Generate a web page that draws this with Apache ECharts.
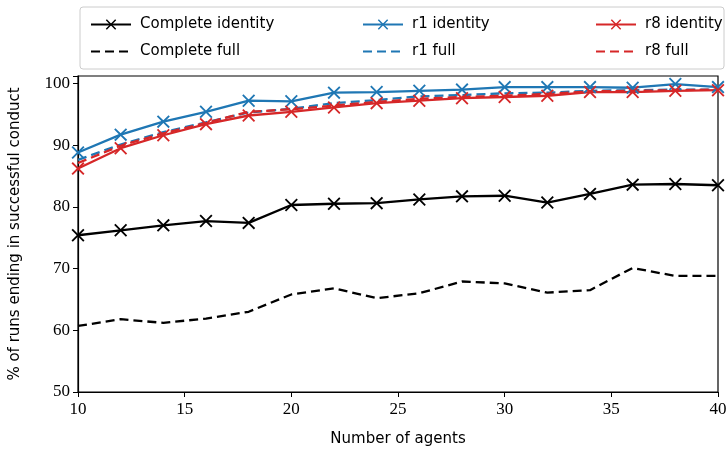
<!DOCTYPE html>
<html><head><meta charset="utf-8">
<script src="https://cdn.jsdelivr.net/npm/echarts@6/dist/echarts.min.js"></script>
<style>html,body{margin:0;padding:0;background:#fff}#c{width:727px;height:449px}</style>
</head><body><div id="c"></div>
<script>
const agents = [10,12,14,16,18,20,22,24,26,28,30,32,34,36,38,40];
const completeIdentity = [75.4,76.2,77.0,77.7,77.4,80.3,80.5,80.6,81.2,81.7,81.8,80.7,82.1,83.6,83.7,83.5];
const completeFull = [60.7,61.8,61.2,61.9,63.0,65.8,66.8,65.2,66.0,67.9,67.6,66.1,66.5,70.1,68.8,68.8];
const r1Identity = [88.8,91.7,93.8,95.4,97.2,97.1,98.5,98.6,98.8,99.0,99.4,99.4,99.4,99.3,99.9,99.4];
const r1Full = [87.6,90.1,92.1,93.7,95.3,95.9,96.8,97.3,97.9,98.1,98.4,98.5,98.8,98.9,99.0,99.0];
const r8Identity = [86.2,89.5,91.6,93.4,94.8,95.4,96.1,96.8,97.2,97.6,97.8,98.0,98.6,98.6,98.8,98.9];
const r8Full = [87.1,89.9,91.9,93.6,95.4,95.8,96.4,97.0,97.5,97.8,98.0,98.3,98.7,98.8,98.9,99.0];
const yTicks = [50,60,70,80,90,100];
const xTicks = [10,15,20,25,30,35,40];

const X = 'path://M0,1L1,0L5,4L9,0L10,1L6,5L10,9L9,10L5,6L1,10L0,9L4,5Z';
const BLACK = '#000000', BLUE = '#1f77b4', RED = '#d62728';
const sans = 'DejaVu Sans';
const serif = 'Liberation Serif';

function pts(arr){ return agents.map((a,i)=>[a,arr[i]]); }
function ser(name, arr, color, dashed){
  const s = {
    name, type:'line', data: pts(arr), color,
    lineStyle:{color, width:2.3, type: dashed ? [9,5] : 'solid'},
    itemStyle:{color},
    animation:false, z: dashed ? 2 : 3
  };
  if (dashed) { s.symbol = 'none'; }
  else { s.symbol = X; s.symbolSize = 13; s.showSymbol = true; }
  return s;
}

const legendCommon = {
  orient:'vertical', top:12, itemWidth:40, itemHeight:13, itemGap:12,
  textStyle:{fontFamily:sans, fontSize:15, color:'#000', padding:[0,0,0,4]},
  selectedMode:false
};

const option = {
  backgroundColor:'#fff',
  animation:false,
  grid:{left:78, right:9, top:76, bottom:57, containLabel:false, outerBoundsMode:'none',
        show:true, borderColor:'#000', borderWidth:1.2},
  graphic:[{type:'rect', shape:{x:80,y:7,width:644,height:62,r:3}, style:{fill:'#fff', stroke:'#cccccc', lineWidth:1}, z:0}],
  legend:[
    Object.assign({left:85, data:['Complete identity', {name:'Complete full', itemStyle:{opacity:0}}]}, legendCommon),
    Object.assign({left:357, data:['r1 identity', {name:'r1 full', itemStyle:{opacity:0}}]}, legendCommon),
    Object.assign({left:590, data:['r8 identity', {name:'r8 full', itemStyle:{opacity:0}}]}, legendCommon)
  ],
  xAxis:{
    type:'value', min:10, max:40, interval:5,
    name:'Number of agents', nameLocation:'middle', nameGap:40,
    nameTextStyle:{fontFamily:sans, fontSize:15, color:'#000'},
    axisLine:{show:true, lineStyle:{color:'#000', width:1.2}},
    axisTick:{show:true, length:5, lineStyle:{color:'#000'}},
    axisLabel:{fontFamily:serif, fontSize:17, color:'#000', margin:9},
    splitLine:{show:false}
  },
  yAxis:{
    type:'value', min:50, max:101.2, interval:10,
    name:'% of runs ending in successful conduct', nameLocation:'middle', nameGap:55,
    nameTextStyle:{fontFamily:sans, fontSize:15, color:'#000'},
    axisLine:{show:true, lineStyle:{color:'#000', width:1.2}},
    axisTick:{show:true, length:5, lineStyle:{color:'#000'}},
    axisLabel:{fontFamily:serif, fontSize:17, color:'#000', margin:8,
      formatter: v => yTicks.indexOf(v) >= 0 ? String(v) : ''},
    splitLine:{show:false}
  },
  series:[
    ser('Complete identity', completeIdentity, BLACK, false),
    ser('Complete full', completeFull, BLACK, true),
    ser('r1 full', r1Full, BLUE, true),
    ser('r8 full', r8Full, RED, true),
    ser('r1 identity', r1Identity, BLUE, false),
    ser('r8 identity', r8Identity, RED, false)
  ]
};
const chart = echarts.init(document.getElementById('c'), null, {renderer:'canvas'});
chart.setOption(option);
</script></body></html>
